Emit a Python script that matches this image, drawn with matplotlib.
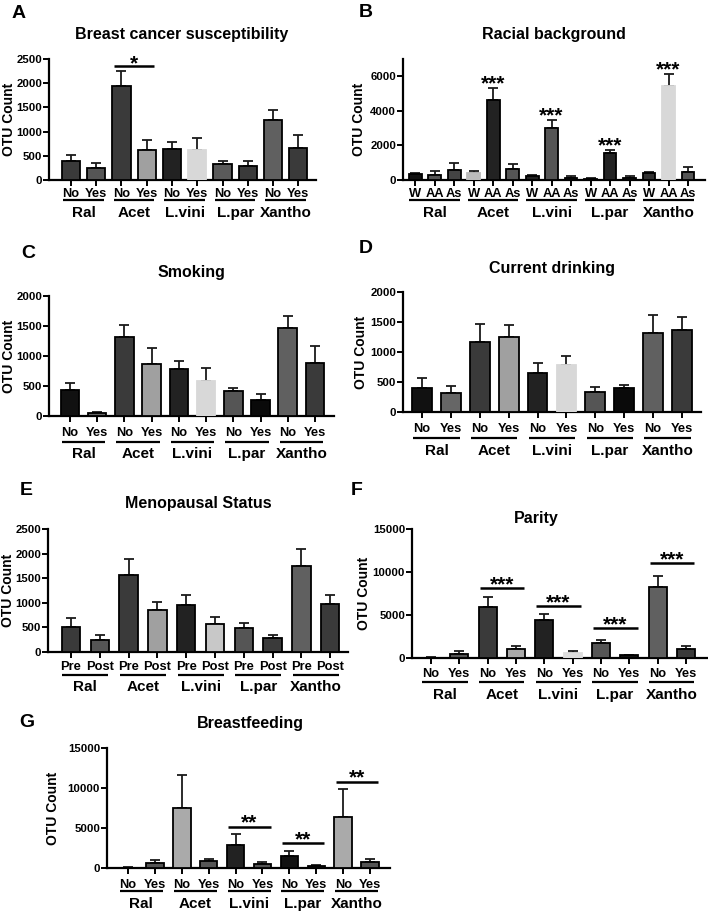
import numpy as np
import matplotlib
matplotlib.use("Agg")
import matplotlib.pyplot as plt
from matplotlib import transforms as mtrans
from matplotlib.colors import to_rgb

plt.rcParams['font.family'] = ['Liberation Sans', 'DejaVu Sans']

# ---------------- data ----------------
groups = ["Ral", "Acet", "L.vini", "L.par", "Xantho"]
no_yes = ["No", "Yes"]
pre_post = ["Pre", "Post"]
races = ["W", "AA", "As"]

susc_mean = [400, 240, 1950, 610, 650, 615, 325, 283, 1235, 670]
susc_err = [115, 110, 300, 225, 125, 260, 60, 100, 210, 250]

race_mean = [330, 300, 550, 400, 4650, 640, 220, 3030, 130, 80, 1560, 100, 380, 5430, 450]
race_err = [100, 220, 420, 100, 650, 280, 60, 420, 130, 50, 180, 110, 100, 700, 320]

smoke_mean = [430, 50, 1310, 860, 790, 590, 415, 275, 1460, 890]
smoke_err = [125, 20, 200, 280, 120, 215, 55, 95, 210, 275]

drink_mean = [400, 320, 1165, 1255, 655, 790, 340, 395, 1310, 1365]
drink_err = [160, 120, 305, 195, 155, 150, 80, 60, 300, 220]

meno_mean = [500, 250, 1575, 855, 965, 570, 490, 285, 1750, 980]
meno_err = [190, 95, 320, 155, 190, 135, 95, 60, 340, 170]

parity_mean = [50, 500, 5880, 1080, 4410, 580, 1740, 310, 8240, 1045]
parity_err = [30, 300, 1200, 350, 700, 200, 390, 80, 1350, 310]

bf_mean = [60, 620, 7500, 830, 2900, 540, 1530, 250, 6340, 790]
bf_err = [40, 330, 4180, 250, 1320, 165, 580, 80, 3520, 330]

# significance annotations: (first bar, last bar, label, bracket level)
susc_sig = [(2, 3, "*", 2360)]
race_sig = [(4, "***"), (7, "***"), (10, "***"), (13, "***")]
parity_sig = [(2, 3, "***", 8160), (4, 5, "***", 5990), (6, 7, "***", 3440), (8, 9, "***", 11060)]
bf_sig = [(4, 5, "**", 5180), (6, 7, "**", 3065), (8, 9, "**", 10810)]

# ---------------- layout ----------------
W, H = 708, 911
fig = plt.figure(figsize=(W / 100, H / 100), dpi=100)
PT = 0.72  # points per pixel


def px_axes(x0, ytop, x1, ybot):
    return fig.add_axes([x0 / W, 1 - ybot / H, (x1 - x0) / W, (ybot - ytop) / H])


def draw_panel(box, mean, err, colors, sub, xlim, ylim, yticks, title, title_x,
               title_base, letter, letter_xy, ylab_x, offs, width=0.68,
               edge_mode="dark", brackets=(), stars=(), star_fs=15, star_gap=10):
    x0, ytop, x1, ybot = box
    ax = px_axes(*box)
    n = len(mean)
    x = np.arange(n)
    edges = []
    for c in colors:
        g = np.mean(to_rgb(c))
        edges.append("black" if (edge_mode == "all" or g < 0.7) else c)
    ax.bar(x, mean, width=width, color=colors, edgecolor=edges, linewidth=1.3, zorder=3)
    ax.errorbar(x, mean, yerr=[np.zeros(n), err], fmt="none", ecolor="#1a1a1a",
                elinewidth=1.3, capsize=3.5, capthick=1.3, zorder=2)
    ax.set_xlim(*xlim)
    ax.set_ylim(*ylim)
    ax.set_yticks(yticks)
    ax.set_yticklabels([str(t) for t in yticks], fontsize=8.2, fontweight="bold")
    ax.set_xticks(x)
    ax.set_xticklabels([])
    ax.tick_params(axis="both", width=1.4, length=4, direction="out", pad=1, color="black")
    for s in ("top", "right"):
        ax.spines[s].set_visible(False)
    for s in ("left", "bottom"):
        ax.spines[s].set_linewidth(1.6)
    # sub-labels
    k = len(sub)
    tick_off, line_off, name_off = offs
    for i in range(n):
        ax.annotate(sub[i % k], xy=(i, 0), xycoords=("data", "axes fraction"),
                    xytext=(0, -tick_off * PT), textcoords="offset points",
                    ha="center", va="baseline", fontsize=9.3, fontweight="bold",
                    annotation_clip=False)
    blend = mtrans.blended_transform_factory(ax.transData, ax.transAxes)
    line_tr = blend + mtrans.ScaledTranslation(0, -line_off / 100, fig.dpi_scale_trans)
    for gi, gname in enumerate(groups):
        a, b = gi * k, gi * k + k - 1
        ax.plot([a - 0.3, b + 0.3], [0, 0], color="black", lw=1.6, transform=line_tr,
                clip_on=False, solid_capstyle="butt")
        ax.annotate(gname, xy=((a + b) / 2, 0), xycoords=("data", "axes fraction"),
                    xytext=(0, -name_off * PT), textcoords="offset points",
                    ha="center", va="baseline", fontsize=11, fontweight="bold",
                    annotation_clip=False)
    # title, letter, y label
    fig.text(title_x / W, 1 - title_base / H, title, ha="center", va="baseline",
             fontsize=11.5, fontweight="bold")
    fig.text(letter_xy[0] / W, 1 - letter_xy[1] / H, letter, ha="center", va="baseline",
             fontsize=14, fontweight="bold")
    fig.text(ylab_x / W, 1 - (ytop + ybot) / 2 / H, "OTU Count", rotation=90,
             ha="center", va="center", fontsize=10, fontweight="bold")
    # significance
    em = star_fs / PT
    star_dy = (star_gap - 0.58 * em) * PT
    for a, b, lab, lvl in brackets:
        ax.plot([a - 0.28, b + 0.3], [lvl, lvl], color="black", lw=1.8, clip_on=False,
                solid_capstyle="butt")
        ax.annotate(lab, xy=((a + b) / 2, lvl), xytext=(0, star_dy), textcoords="offset points",
                    ha="center", va="baseline", fontsize=star_fs, fontweight="bold",
                    annotation_clip=False)
    for i, lab in stars:
        top = mean[i] + err[i]
        ax.annotate(lab, xy=(i, top), xytext=(0, star_dy + 1 * PT), textcoords="offset points",
                    ha="center", va="baseline", fontsize=star_fs, fontweight="bold",
                    annotation_clip=False)
    return ax


c10_a = ["#3a3a3a", "#555555", "#3a3a3a", "#a0a0a0", "#222222", "#d8d8d8",
         "#5a5a5a", "#3a3a3a", "#606060", "#3a3a3a"]
c10_c = ["#111111", "#666666", "#3a3a3a", "#a0a0a0", "#222222", "#d8d8d8",
         "#555555", "#0a0a0a", "#606060", "#3a3a3a"]
c10_e = ["#3a3a3a", "#555555", "#3a3a3a", "#a0a0a0", "#222222", "#c8c8c8",
         "#555555", "#3a3a3a", "#606060", "#3a3a3a"]
c10_f = ["#111111", "#555555", "#3a3a3a", "#aaaaaa", "#222222", "#dddddd",
         "#555555", "#111111", "#606060", "#3a3a3a"]
c10_g = ["#111111", "#555555", "#aaaaaa", "#555555", "#222222", "#555555",
         "#111111", "#333333", "#aaaaaa", "#555555"]
c15_b = ["#111111", "#555555", "#444444", "#bbbbbb", "#222222", "#555555",
         "#222222", "#555555", "#333333", "#555555", "#222222", "#444444",
         "#333333", "#d8d8d8", "#555555"]

draw_panel((49, 59, 316, 180), susc_mean, susc_err, c10_a, no_yes, (-0.87, 9.7), (0, 2500),
           [0, 500, 1000, 1500, 2000, 2500], "Breast cancer susceptibility", 182, 39,
           "A", (19, 18), 9, (17, 19.5, 37), width=0.72, brackets=susc_sig, star_gap=8)

draw_panel((403, 59, 705, 180), race_mean, race_err, c15_b, races, (-0.62, 14.87), (0, 7000),
           [0, 2000, 4000, 6000], "Racial background", 554, 39,
           "B", (366, 17), 359, (17, 20, 37), width=0.66, stars=race_sig)

draw_panel((49, 296, 334, 416), smoke_mean, smoke_err, c10_c, no_yes, (-0.77, 9.7), (0, 2000),
           [0, 500, 1000, 1500, 2000], "Smoking", 191, 277,
           "C", (28, 258), 9, (20, 26, 42))

draw_panel((403, 292, 701, 412), drink_mean, drink_err, c10_c, no_yes, (-0.66, 9.66), (0, 2000),
           [0, 500, 1000, 1500, 2000], "Current drinking", 552, 273,
           "D", (366, 253), 361, (20, 26, 43))

draw_panel((48, 529, 348, 652), meno_mean, meno_err, c10_e, pre_post, (-0.8, 9.62), (0, 2500),
           [0, 500, 1000, 1500, 2000, 2500], "Menopausal Status", 198, 508,
           "E", (26, 495), 8, (18, 23, 39), width=0.64, edge_mode="all")

draw_panel((412, 529, 708, 658), parity_mean, parity_err, c10_f, no_yes, (-0.67, 9.78), (0, 15000),
           [0, 5000, 10000, 15000], "Parity", 536, 523,
           "F", (357, 495), 364, (19, 24, 41), width=0.63, brackets=parity_sig)

draw_panel((107, 748, 390, 868), bf_mean, bf_err, c10_g, no_yes, (-0.78, 9.74), (0, 15000),
           [0, 5000, 10000, 15000], "Breastfeeding", 250, 728,
           "G", (27, 727), 53, (20, 23, 40), width=0.65, edge_mode="all", brackets=bf_sig)

fig.savefig("out.png", dpi=100)
